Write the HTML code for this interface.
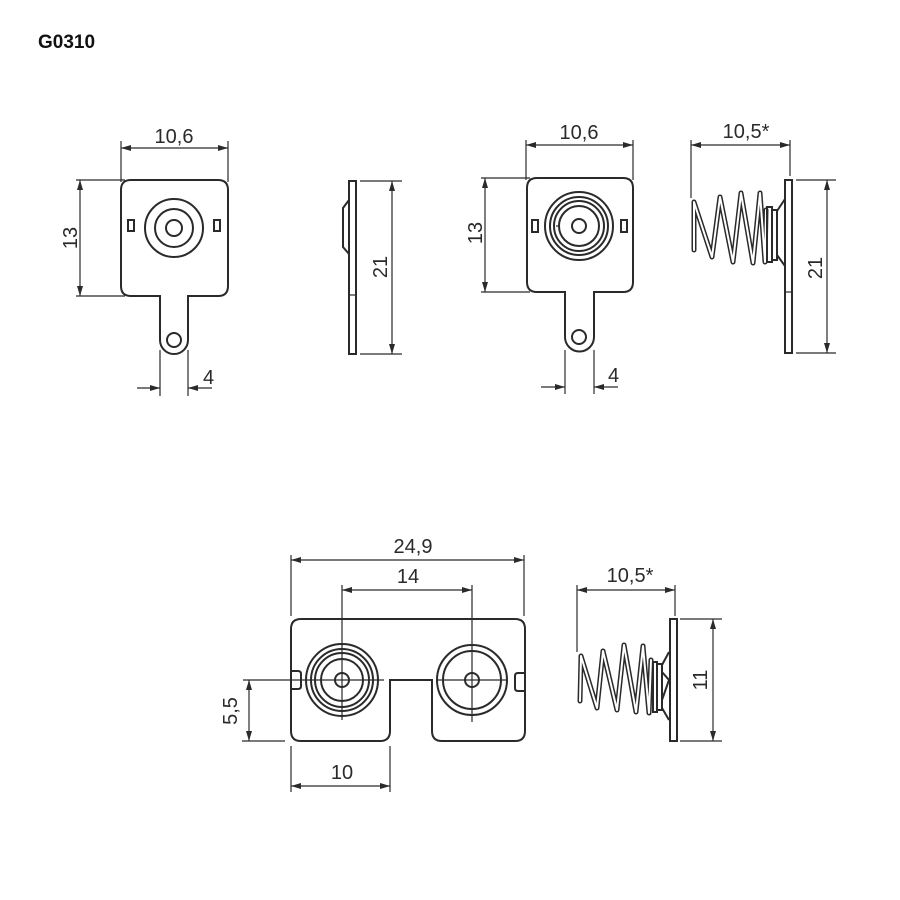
<!DOCTYPE html>
<html><head><meta charset="utf-8"><style>
html,body{margin:0;padding:0;background:#fff}
svg{display:block}
text{font-family:"Liberation Sans",sans-serif;fill:#2a2a2a;font-size:20px}
.l{stroke:#2a2a2a;stroke-width:2;fill:none}
.t{stroke:#2a2a2a;stroke-width:1.2;fill:none}
.sp1{stroke:#2a2a2a;stroke-width:5;fill:none;stroke-linejoin:round;stroke-linecap:round}
.sp2{stroke:#fff;stroke-width:2;fill:none;stroke-linejoin:round;stroke-linecap:round}
</style></head><body>
<svg width="900" height="900" viewBox="0 0 900 900">
<defs>
<marker id="a" viewBox="0 0 10 6" refX="10" refY="3" markerWidth="10" markerHeight="6" orient="auto-start-reverse" markerUnits="userSpaceOnUse"><path d="M0,0 L10,3 L0,6 z" fill="#2a2a2a"/></marker>
</defs>
<text x="38" y="48" style="font-weight:bold;font-size:19px;fill:#111">G0310</text>

<path class="l" d="M131,180 H218 Q228,180 228,190 V286 Q228,296 218,296 H188 V340 A14,14 0 0 1 160,340 V296 H131 Q121,296 121,286 V190 Q121,180 131,180 Z"/>
<circle class="l" cx="174" cy="340" r="7"/>
<circle class="l" cx="174" cy="228" r="29"/>
<circle class="l" cx="174" cy="228" r="19"/>
<circle class="l" cx="174" cy="228" r="8"/>
<rect class="l" x="128" y="220" width="6" height="11"/>
<rect class="l" x="214" y="220" width="6" height="11"/>
<line class="t" x1="121" y1="141" x2="121" y2="182"/><line class="t" x1="228" y1="141" x2="228" y2="182"/>
<line class="t" x1="121" y1="148" x2="228" y2="148" marker-start="url(#a)" marker-end="url(#a)"/>
<text x="174" y="143" text-anchor="middle">10,6</text>
<line class="t" x1="76" y1="180" x2="125" y2="180"/><line class="t" x1="76" y1="296" x2="125" y2="296"/>
<line class="t" x1="80" y1="180" x2="80" y2="296" marker-start="url(#a)" marker-end="url(#a)"/>
<text transform="translate(77,238) rotate(-90)" text-anchor="middle">13</text>
<line class="t" x1="160" y1="350" x2="160" y2="396"/><line class="t" x1="188" y1="350" x2="188" y2="396"/>
<line class="t" x1="137" y1="388" x2="160" y2="388" marker-end="url(#a)"/>
<line class="t" x1="212" y1="388" x2="188" y2="388" marker-end="url(#a)"/>
<text x="203" y="384">4</text>

<rect class="l" x="349" y="181" width="7" height="173"/>
<line class="t" x1="349" y1="295" x2="356" y2="295"/>
<path class="l" d="M349,200 L343,208 V247 L349,254"/>
<line class="t" x1="360" y1="181" x2="402" y2="181"/><line class="t" x1="360" y1="354" x2="402" y2="354"/>
<line class="t" x1="392" y1="181" x2="392" y2="354" marker-start="url(#a)" marker-end="url(#a)"/>
<text transform="translate(387,267) rotate(-90)" text-anchor="middle">21</text>

<path class="l" d="M537,178 H623 Q633,178 633,188 V282 Q633,292 623,292 H594 V337 A14.5,14.5 0 0 1 565,337 V292 H537 Q527,292 527,282 V188 Q527,178 537,178 Z"/>
<circle class="l" cx="579" cy="337" r="7"/>
<circle class="l" cx="579" cy="226" r="34"/>
<circle class="l" cx="579" cy="226" r="29"/>
<circle class="l" cx="579" cy="226" r="25"/>
<circle class="l" cx="579" cy="226" r="20"/>
<circle class="l" cx="579" cy="226" r="7"/>
<line class="t" x1="556" y1="226" x2="560" y2="226"/>
<rect class="l" x="532" y="220" width="6" height="12"/>
<rect class="l" x="621" y="220" width="6" height="12"/>
<line class="t" x1="526" y1="140" x2="526" y2="180"/><line class="t" x1="633" y1="140" x2="633" y2="180"/>
<line class="t" x1="526" y1="145" x2="633" y2="145" marker-start="url(#a)" marker-end="url(#a)"/>
<text x="579" y="139" text-anchor="middle">10,6</text>
<line class="t" x1="481" y1="178" x2="530" y2="178"/><line class="t" x1="481" y1="292" x2="530" y2="292"/>
<line class="t" x1="485" y1="178" x2="485" y2="292" marker-start="url(#a)" marker-end="url(#a)"/>
<text transform="translate(482,233) rotate(-90)" text-anchor="middle">13</text>
<line class="t" x1="565" y1="350" x2="565" y2="394"/><line class="t" x1="594" y1="350" x2="594" y2="394"/>
<line class="t" x1="541" y1="387" x2="565" y2="387" marker-end="url(#a)"/>
<line class="t" x1="618" y1="387" x2="594" y2="387" marker-end="url(#a)"/>
<text x="608" y="382">4</text>

<rect class="l" x="785" y="180" width="7" height="173"/>
<line class="t" x1="785" y1="292" x2="792" y2="292"/>
<polyline class="sp1" points="694,250 694,202 712,257 720,197 733,262 741,193 753,263 760,193 765,262 766,210"/>
<polyline class="sp2" points="694,250 694,202 712,257 720,197 733,262 741,193 753,263 760,193 765,262 766,210"/>
<rect class="l" x="767" y="207" width="5" height="55"/>
<rect class="l" x="772" y="210" width="5" height="50"/>
<path class="l" d="M777,211 L785,199 M777,255 L785,266"/>
<line class="t" x1="691" y1="140" x2="691" y2="198"/><line class="t" x1="790" y1="140" x2="790" y2="176"/>
<line class="t" x1="691" y1="145" x2="790" y2="145" marker-start="url(#a)" marker-end="url(#a)"/>
<text x="746" y="138" text-anchor="middle">10,5*</text>
<line class="t" x1="796" y1="180" x2="836" y2="180"/><line class="t" x1="796" y1="353" x2="836" y2="353"/>
<line class="t" x1="827" y1="180" x2="827" y2="353" marker-start="url(#a)" marker-end="url(#a)"/>
<text transform="translate(822,268) rotate(-90)" text-anchor="middle">21</text>

<path class="l" d="M301,619 H515 Q525,619 525,629 V731 Q525,741 515,741 H442 Q432,741 432,731 V680 H390 V731 Q390,741 380,741 H301 Q291,741 291,731 V629 Q291,619 301,619 Z"/>
<circle class="l" cx="342" cy="680" r="36"/>
<circle class="l" cx="342" cy="680" r="31"/>
<circle class="l" cx="342" cy="680" r="27"/>
<circle class="l" cx="342" cy="680" r="21"/>
<circle class="l" cx="342" cy="680" r="7"/>
<circle class="l" cx="472" cy="680" r="35"/>
<circle class="l" cx="472" cy="680" r="29"/>
<circle class="l" cx="472" cy="680" r="7"/>
<path class="l" d="M292,671 H298 Q301,671 301,674 V686 Q301,689 298,689 H292"/>
<path class="l" d="M524,673 H518 Q515,673 515,676 V688 Q515,691 518,691 H524"/>
<line class="t" x1="243" y1="680" x2="384" y2="680"/>
<line class="t" x1="436" y1="680" x2="506" y2="680"/>
<line class="t" x1="342" y1="585" x2="342" y2="720"/>
<line class="t" x1="472" y1="585" x2="472" y2="722"/>
<line class="t" x1="291" y1="555" x2="291" y2="616"/><line class="t" x1="524" y1="555" x2="524" y2="616"/>
<line class="t" x1="291" y1="560" x2="524" y2="560" marker-start="url(#a)" marker-end="url(#a)"/>
<text x="413" y="553" text-anchor="middle">24,9</text>
<line class="t" x1="342" y1="590" x2="472" y2="590" marker-start="url(#a)" marker-end="url(#a)"/>
<text x="408" y="583" text-anchor="middle">14</text>
<line class="t" x1="242" y1="741" x2="285" y2="741"/>
<line class="t" x1="249" y1="680" x2="249" y2="741" marker-start="url(#a)" marker-end="url(#a)"/>
<text transform="translate(237,711) rotate(-90)" text-anchor="middle">5,5</text>
<line class="t" x1="291" y1="746" x2="291" y2="792"/><line class="t" x1="390" y1="746" x2="390" y2="792"/>
<line class="t" x1="291" y1="786" x2="390" y2="786" marker-start="url(#a)" marker-end="url(#a)"/>
<text x="342" y="779" text-anchor="middle">10</text>

<rect class="l" x="670" y="619" width="7" height="122"/>
<polyline class="sp1" points="580,701 581,656 597,708 603,651 617,710 624,645 636,712 643,646 649,713 651,660"/>
<polyline class="sp2" points="580,701 581,656 597,708 603,651 617,710 624,645 636,712 643,646 649,713 651,660"/>
<rect class="l" x="653" y="662" width="4" height="50"/>
<rect class="l" x="657" y="664" width="5" height="46"/>
<path class="l" d="M662,665 L669,652 M662,708 L669,720 M662,672 L669,680 L662,700"/>
<line class="t" x1="577" y1="585" x2="577" y2="652"/><line class="t" x1="675" y1="585" x2="675" y2="616"/>
<line class="t" x1="577" y1="590" x2="675" y2="590" marker-start="url(#a)" marker-end="url(#a)"/>
<text x="630" y="582" text-anchor="middle">10,5*</text>
<line class="t" x1="680" y1="619" x2="722" y2="619"/><line class="t" x1="680" y1="741" x2="722" y2="741"/>
<line class="t" x1="713" y1="619" x2="713" y2="741" marker-start="url(#a)" marker-end="url(#a)"/>
<text transform="translate(707,680) rotate(-90)" text-anchor="middle">11</text>
</svg>
</body></html>
